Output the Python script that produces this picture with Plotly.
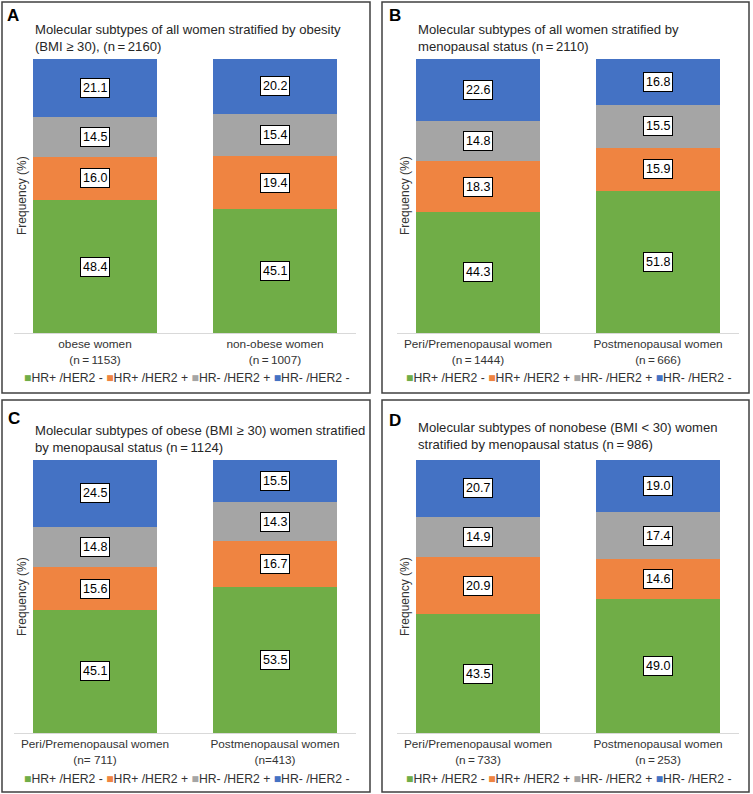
import plotly.graph_objects as go

# ---------------- data ----------------
panel_ids = ["A", "B", "C", "D"]
panel_titles = [
    "Molecular subtypes of all women stratified by obesity<br>(BMI \u2265 30), (n\u2009=\u20092160)",
    "Molecular subtypes of all women stratified by<br>menopausal status (n\u2009=\u20092110)",
    "Molecular subtypes of obese (BMI \u2265 30) women stratified<br>by menopausal status (n\u2009=\u20091124)",
    "Molecular subtypes of nonobese (BMI < 30) women<br>stratified by menopausal status (n\u2009=\u2009986)",
]
group_names = [
    ["obese women", "non-obese women"],
    ["Peri/Premenopausal women", "Postmenopausal women"],
    ["Peri/Premenopausal women", "Postmenopausal women"],
    ["Peri/Premenopausal women", "Postmenopausal women"],
]
group_n = [
    ["(n\u2009=\u20091153)", "(n\u2009=\u20091007)"],
    ["(n\u2009=\u20091444)", "(n\u2009=\u2009666)"],
    ["(n= 711)", "(n=413)"],
    ["(n\u2009=\u2009733)", "(n\u2009=\u2009253)"],
]
subtype_names = ["HR+ /HER2 -", "HR+ /HER2 +", "HR- /HER2 +", "HR- /HER2 -"]
hrpos_her2neg = [[48.4, 45.1], [44.3, 51.8], [45.1, 53.5], [43.5, 49.0]]
hrpos_her2pos = [[16.0, 19.4], [18.3, 15.9], [15.6, 16.7], [20.9, 14.6]]
hrneg_her2pos = [[14.5, 15.4], [14.8, 15.5], [14.8, 14.3], [14.9, 17.4]]
hrneg_her2neg = [[21.1, 20.2], [22.6, 16.8], [24.5, 15.5], [20.7, 19.0]]
series = [hrpos_her2neg, hrpos_her2pos, hrneg_her2pos, hrneg_her2neg]
colors = ["#70AD47", "#EF8441", "#A5A5A5", "#4472C4"]

# ---------------- layout geometry (pixels) ----------------
W, H = 753, 794
FONT = "Liberation Sans, Arial, sans-serif"


def fx(x):
    return x / W


def fy(y):
    return 1 - y / H


boxes = [(2, 2, 370, 393), (382, 2, 749, 393), (2, 400, 370, 792), (382, 400, 749, 792)]
xdom = [(14, 356), (397, 739), (14, 356), (397, 739)]
ydom = [(59, 333), (59, 333), (460, 733), (460, 733)]
title_pos = [(33, 38), (416, 38), (33, 439), (416, 436)]
letter_pos = [(13, 15), (395, 15), (14, 418), (395, 420)]
legend_pos = [(186, 378), (568, 378), (186, 779), (568, 779)]
ytitle_pos = [(22, 196), (405, 196), (22, 597), (405, 597)]

fig = go.Figure()
annotations = []
shapes = []

for i in range(4):
    ax = "" if i == 0 else str(i + 1)
    xref, yref = "x" + ax, "y" + ax
    for s in range(4):
        fig.add_trace(go.Bar(
            x=[0, 1], y=series[s][i], name=subtype_names[s],
            marker=dict(color=colors[s], line=dict(width=0)),
            width=0.69, showlegend=False, xaxis=xref, yaxis=yref,
        ))
    # value labels
    for g in range(2):
        base = 0.0
        for s in range(4):
            v = series[s][i][g]
            annotations.append(dict(
                x=g, y=base + v / 2, xref=xref, yref=yref, text=f"{v:.1f}",
                showarrow=False, font=dict(family=FONT, size=12.5, color="#000000"),
                bgcolor="#FFFFFF", bordercolor="#000000", borderwidth=1, borderpad=2,
            ))
            base += v
    fig.update_layout(**{
        "xaxis" + ax: dict(
            domain=[fx(xdom[i][0]), fx(xdom[i][1])], range=[-0.45, 1.45],
            anchor=yref, showline=True, linecolor="#D9D9D9", linewidth=1,
            ticks="", tickvals=[0, 1],
            ticktext=[f"{group_names[i][g]}<br>{group_n[i][g]}" for g in range(2)],
            tickfont=dict(family=FONT, size=11.8, color="#333333"),
            showgrid=False, zeroline=False, fixedrange=True,
        ),
        "yaxis" + ax: dict(
            domain=[fy(ydom[i][1]), fy(ydom[i][0])], range=[0, 100], anchor=xref,
            showticklabels=False, showgrid=False, zeroline=False, showline=False,
            ticks="", fixedrange=True,
        ),
    })
    # panel border
    x0, y0, x1, y1 = boxes[i]
    shapes.append(dict(type="rect", xref="paper", yref="paper",
                       x0=fx(x0), x1=fx(x1), y0=fy(y1), y1=fy(y0),
                       line=dict(color="#404040", width=1.5), fillcolor="rgba(0,0,0,0)"))
    # panel letter
    annotations.append(dict(x=fx(letter_pos[i][0]), y=fy(letter_pos[i][1]), xref="paper", yref="paper",
                            text=f"<b>{panel_ids[i]}</b>", showarrow=False,
                            xanchor="center", yanchor="middle",
                            font=dict(family=FONT, size=17, color="#000000")))
    # title
    annotations.append(dict(x=fx(title_pos[i][0]), y=fy(title_pos[i][1]), xref="paper", yref="paper",
                            text=panel_titles[i], showarrow=False, align="left",
                            xanchor="left", yanchor="middle",
                            font=dict(family=FONT, size=13.1, color="#262626")))
    # y axis title
    annotations.append(dict(x=fx(ytitle_pos[i][0]), y=fy(ytitle_pos[i][1]), xref="paper", yref="paper",
                            text="Frequency (%)", showarrow=False, textangle=-90,
                            xanchor="center", yanchor="middle",
                            font=dict(family=FONT, size=12, color="#333333")))
    # legend
    leg = " ".join(f"<span style='color:{colors[s]}'>\u25A0</span>{subtype_names[s]}" for s in range(4))
    annotations.append(dict(x=fx(legend_pos[i][0]), y=fy(legend_pos[i][1]), xref="paper", yref="paper",
                            text=leg, showarrow=False, xanchor="center", yanchor="middle",
                            font=dict(family=FONT, size=12.2, color="#333333")))

fig.update_layout(
    width=W, height=H, margin=dict(l=0, r=0, t=0, b=0),
    paper_bgcolor="#FFFFFF", plot_bgcolor="#FFFFFF",
    barmode="stack", bargap=0, showlegend=False,
    annotations=annotations, shapes=shapes,
    font=dict(family=FONT),
)

fig.write_html("out.html", config={"displayModeBar": False},
               post_script="document.body.style.margin='0';")
